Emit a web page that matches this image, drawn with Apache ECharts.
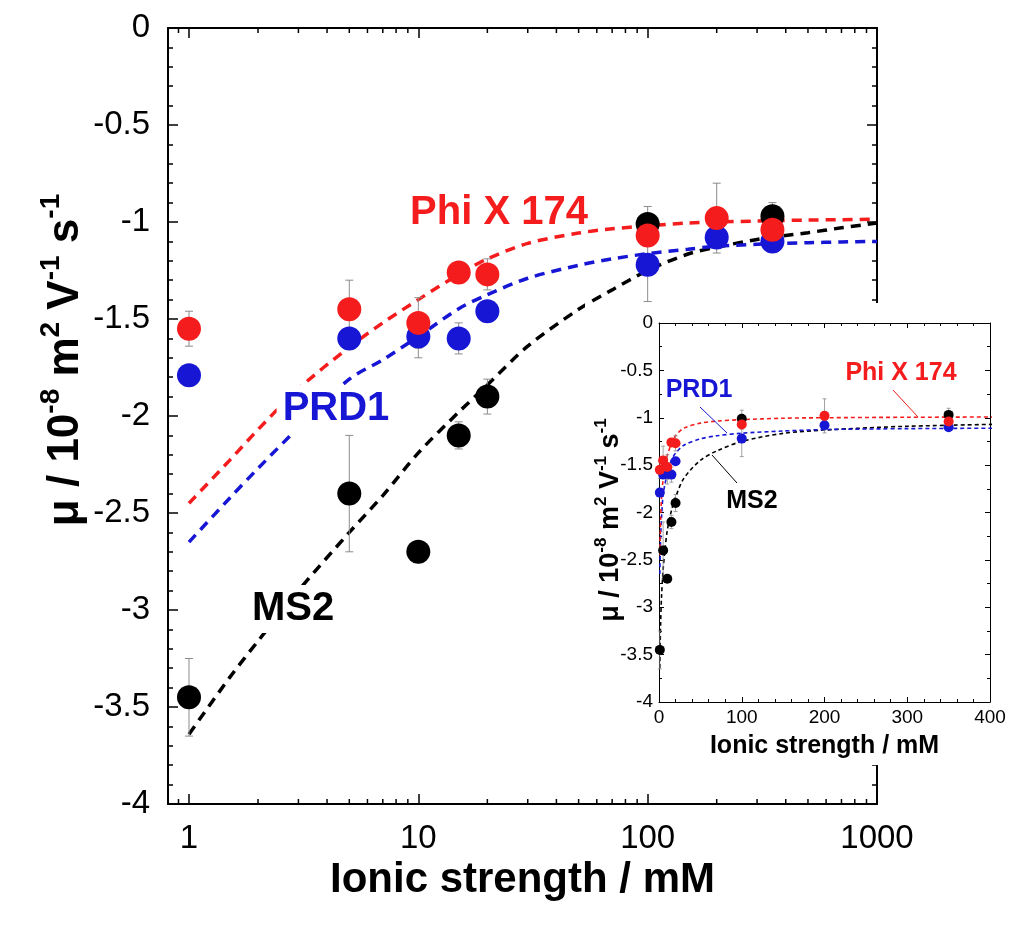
<!DOCTYPE html>
<html><head><meta charset="utf-8">
<script src="https://cdn.jsdelivr.net/npm/echarts@6/dist/echarts.min.js"></script>
<style>html,body{margin:0;padding:0;background:#fff}#c{width:1009px;height:925px}</style>
</head><body><div id="c"></div>
<script>
// ---- data ----
const ionic = [1, 5, 10, 15, 20, 100, 200, 350];
const phiX = [-1.55, -1.45, -1.52, -1.26, -1.27, -1.07, -0.98, -1.04];
const prd1 = [-1.79, -1.60, -1.59, -1.60, -1.46, -1.22, -1.08, -1.10];
const ms2  = [-3.45, -2.40, -2.70, -2.10, -1.90, -1.01, null, -0.97];
const phiXErr = [0.09, 0.15, 0.13, 0, 0.08, 0.05, 0.18, 0.03];
const prd1Err = [0, 0, 0.11, 0.08, 0, 0.19, 0.05, 0.02];
const ms2Err  = [0.20, 0.30, 0, 0.07, 0.09, 0.09, 0, 0.07];
const fitX    = [1, 1.5, 2, 3, 5, 7, 10, 15, 20, 30, 50, 70, 100, 150, 200, 300, 500, 700, 1000];
const phiXFit = [-2.45, -2.23, -2.07, -1.86, -1.645, -1.52, -1.40, -1.27, -1.19, -1.11, -1.057, -1.035, -1.02, -1.005, -1.0, -0.995, -0.99, -0.988, -0.985];
const prd1Fit = [-2.65, -2.425, -2.27, -2.06, -1.81, -1.71, -1.59, -1.447, -1.375, -1.29, -1.223, -1.19, -1.163, -1.14, -1.125, -1.115, -1.107, -1.103, -1.10];
const ms2Fit  = [-3.64, -3.35, -3.16, -2.90, -2.60, -2.41, -2.19, -1.98, -1.84, -1.64, -1.45, -1.35, -1.25, -1.165, -1.13, -1.09, -1.055, -1.03, -1.005];
const mainXTickLabels = [1, 10, 100, 1000];
const logMinorTicks = [0.9, 2, 3, 4, 5, 6, 7, 8, 9, 20, 30, 40, 50, 60, 70, 80, 90, 200, 300, 400, 500, 600, 700, 800, 900];

// ---- styles ----
const FONT = 'Liberation Sans, Arial, Helvetica, sans-serif';
const RED = '#f41c1c', BLUE = '#1616d4', BLACK = '#000000', ERR = '#8c8c8c';

function pts(xs, ys) { const o = []; xs.forEach((x, i) => { if (ys[i] != null) o.push([x, ys[i]]); }); return o; }
function errs(xs, ys, es) { const o = []; xs.forEach((x, i) => { if (ys[i] != null && es[i] > 0) o.push([x, ys[i] - es[i], ys[i] + es[i]]); }); return o; }
function errRender(cap, lw) {
  return function (params, api) {
    const x = api.value(0);
    const a = api.coord([x, api.value(1)]), b = api.coord([x, api.value(2)]);
    const st = { stroke: ERR, lineWidth: lw };
    return { type: 'group', children: [
      { type: 'line', shape: { x1: a[0], y1: a[1], x2: b[0], y2: b[1] }, style: st },
      { type: 'line', shape: { x1: a[0] - cap, y1: a[1], x2: a[0] + cap, y2: a[1] }, style: st },
      { type: 'line', shape: { x1: b[0] - cap, y1: b[1], x2: b[0] + cap, y2: b[1] }, style: st }
    ] };
  };
}

function valAxis(o) {
  return Object.assign({
    type: 'value', splitLine: { show: false },
    axisLine: { show: true, onZero: false, lineStyle: { color: '#000', width: 2 } },
    axisTick: { show: true, inside: true, length: 10, lineStyle: { color: '#000', width: 1.5 } },
    minorTick: { show: true, splitNumber: 5, length: 5, lineStyle: { color: '#000', width: 1.5 } },
    axisLabel: { show: true, fontSize: 33, color: '#000', fontFamily: FONT, margin: 18 }
  }, o);
}
function logAxis(o) {
  return Object.assign({
    type: 'log', logBase: 10, min: 0.81, max: 1000, splitLine: { show: false },
    axisLine: { show: true, onZero: false, lineStyle: { color: '#000', width: 2 } },
    axisTick: { show: true, inside: true, length: 10, lineStyle: { color: '#000', width: 1.5 } },
    minorTick: { show: false },
    axisLabel: { show: true, fontSize: 33, color: '#000', fontFamily: FONT, margin: 18,
      formatter: function (v) {
        const t = mainXTickLabels.find(t => Math.abs(Math.log10(v) - Math.log10(t)) < 1e-6);
        return t === undefined ? '' : String(t);
      } }
  }, o);
}
function insetAxis(o) {
  return Object.assign({
    type: 'value', gridIndex: 1, zlevel: 1, splitLine: { show: false },
    axisLine: { show: true, onZero: false, lineStyle: { color: '#000', width: 1 } },
    axisTick: { show: true, inside: true, length: 5, lineStyle: { color: '#000', width: 1 } },
    minorTick: { show: true, splitNumber: 5, length: 3, lineStyle: { color: '#000', width: 1 } },
    axisLabel: { show: true, fontSize: 19, color: '#000', fontFamily: FONT, margin: 6 }
  }, o);
}

const supRich = (big, small, lhBig, lhSmall) => ({
  b: { fontSize: big, fontWeight: 'bold', fontFamily: FONT, color: '#000', lineHeight: lhBig, verticalAlign: 'middle' },
  s: { fontSize: small, fontWeight: 'bold', fontFamily: FONT, color: '#000', lineHeight: lhSmall, verticalAlign: 'top' }
});
const yTitleText = '{b|μ / 10}{s|-8}{b| m}{s|2}{b| V}{s|-1}{b| s}{s|-1}';

const fitLine = (name, xs, ys, color, xi, yi, w, dash, zl) => ({
  type: 'line', name, xAxisIndex: xi, yAxisIndex: yi, zlevel: zl, z: 2,
  data: pts(xs, ys), showSymbol: false, smooth: 0.3, silent: true,
  lineStyle: { color, width: w, type: dash }
});
const scat = (name, ys, color, xi, yi, size, z, zl) => ({
  type: 'scatter', name, xAxisIndex: xi, yAxisIndex: yi, zlevel: zl, z,
  data: pts(ionic, ys), symbol: 'circle', symbolSize: size, itemStyle: { color, opacity: 1 }
});
const errSeries = (ys, es, xi, yi, cap, lw, zl) => ({
  type: 'custom', xAxisIndex: xi, yAxisIndex: yi, zlevel: zl, z: 3, silent: true,
  data: errs(ionic, ys, es), encode: { x: 0, y: [1, 2] }, renderItem: errRender(cap, lw)
});

const option = {
  animation: false,
  backgroundColor: '#fff',
  grid: [
    { left: 168, top: 28, width: 709, height: 776, outerBoundsMode: 'none' },
    { left: 659, top: 323, width: 331, height: 379, zlevel: 1, outerBoundsMode: 'none' }
  ],
  xAxis: [
    logAxis({ gridIndex: 0, position: 'bottom', name: 'Ionic strength / mM', nameLocation: 'middle', nameGap: 52,
      nameTextStyle: { fontSize: 42, fontWeight: 'bold', color: '#000', fontFamily: FONT } }),
    logAxis({ gridIndex: 0, position: 'top', axisLabel: { show: false } }),
    insetAxis({ min: 0, max: 400, interval: 100, position: 'bottom', name: 'Ionic strength / mM', nameLocation: 'middle', nameGap: 32,
      nameTextStyle: { fontSize: 25, fontWeight: 'bold', color: '#000', fontFamily: FONT } }),
    insetAxis({ min: 0, max: 400, interval: 100, position: 'top', axisLabel: { show: false } })
  ],
  yAxis: [
    valAxis({ gridIndex: 0, min: -4, max: 0, interval: 0.5, position: 'left' }),
    valAxis({ gridIndex: 0, min: -4, max: 0, interval: 0.5, position: 'right', axisLabel: { show: false } }),
    insetAxis({ min: -4, max: 0, interval: 0.5, position: 'left', minorTick: { show: true, splitNumber: 2, length: 3, lineStyle: { color: '#000', width: 1 } } }),
    insetAxis({ min: -4, max: 0, interval: 0.5, position: 'right', axisLabel: { show: false }, minorTick: { show: true, splitNumber: 2, length: 3, lineStyle: { color: '#000', width: 1 } } })
  ],
  series: [
    // main log-scale minor ticks (2..9 per decade)
    { type: 'custom', xAxisIndex: 0, yAxisIndex: 0, z: 1, silent: true, clip: false,
      data: logMinorTicks.map(v => [v, -4]), encode: { x: 0, y: 1 },
      renderItem: function (params, api) {
        const x = api.value(0);
        const b = api.coord([x, -4]), t = api.coord([x, 0]);
        const st = { stroke: '#000', lineWidth: 1.5 };
        return { type: 'group', children: [
          { type: 'line', shape: { x1: b[0], y1: b[1], x2: b[0], y2: b[1] - 5 }, style: st },
          { type: 'line', shape: { x1: t[0], y1: t[1], x2: t[0], y2: t[1] + 5 }, style: st }
        ] };
      } },
    fitLine('MS2 fit', fitX, ms2Fit, BLACK, 0, 0, 3.5, [10, 7], 0),
    fitLine('PRD1 fit', fitX, prd1Fit, BLUE, 0, 0, 3.5, [10, 7], 0),
    fitLine('Phi X 174 fit', fitX, phiXFit, RED, 0, 0, 3.5, [10, 7], 0),
    errSeries(ms2, ms2Err, 0, 0, 4, 1, 0),
    errSeries(prd1, prd1Err, 0, 0, 4, 1, 0),
    errSeries(phiX, phiXErr, 0, 0, 4, 1, 0),
    scat('MS2', ms2, BLACK, 0, 0, 24, 4, 0),
    scat('PRD1', prd1, BLUE, 0, 0, 24, 5, 0),
    scat('Phi X 174', phiX, RED, 0, 0, 24, 6, 0),
    // inset
    fitLine('MS2 fit i', fitX, ms2Fit, BLACK, 2, 2, 1.6, [4, 3], 1),
    fitLine('PRD1 fit i', fitX, prd1Fit, BLUE, 2, 2, 1.6, [4, 3], 1),
    fitLine('Phi X 174 fit i', fitX, phiXFit, RED, 2, 2, 1.6, [4, 3], 1),
    errSeries(ms2, ms2Err, 2, 2, 2, 0.8, 1),
    errSeries(prd1, prd1Err, 2, 2, 2, 0.8, 1),
    errSeries(phiX, phiXErr, 2, 2, 2, 0.8, 1),
    scat('MS2 i', ms2, BLACK, 2, 2, 10, 4, 1),
    scat('PRD1 i', prd1, BLUE, 2, 2, 10, 5, 1),
    scat('Phi X 174 i', phiX, RED, 2, 2, 10, 6, 1)
  ],
  graphic: { elements: [
    // main y title
    { type: 'text', x: 66, y: 360, rotation: Math.PI / 2, z: 10,
      style: { text: yTitleText, rich: supRich(44, 28, 58, 28), align: 'center', verticalAlign: 'middle' } },
    // main annotations
    { type: 'text', x: 499, y: 213, z: 10,
      style: { text: 'Phi X 174', fill: RED, font: 'bold 40px ' + FONT, align: 'center', verticalAlign: 'middle' } },
    { type: 'text', x: 336, y: 409, z: 10,
      style: { text: 'PRD1', fill: BLUE, font: 'bold 40px ' + FONT, align: 'center', verticalAlign: 'middle', backgroundColor: '#fff', padding: [4, 6] } },
    { type: 'text', x: 293, y: 609, z: 10,
      style: { text: 'MS2', fill: BLACK, font: 'bold 40px ' + FONT, align: 'center', verticalAlign: 'middle', backgroundColor: '#fff', padding: [4, 6] } },
    // inset background
    { type: 'rect', zlevel: 1, z: -5, shape: { x: 585, y: 303, width: 424, height: 462 }, style: { fill: '#fff' } },
    // inset y title
    { type: 'text', zlevel: 1, z: 10, x: 611, y: 520, rotation: Math.PI / 2,
      style: { text: yTitleText, rich: supRich(27, 17, 36, 17), align: 'center', verticalAlign: 'middle' } },
    // inset annotations
    { type: 'text', zlevel: 1, z: 10, x: 699, y: 390,
      style: { text: 'PRD1', fill: BLUE, font: 'bold 25px ' + FONT, align: 'center', verticalAlign: 'middle' } },
    { type: 'text', zlevel: 1, z: 10, x: 901, y: 373,
      style: { text: 'Phi X 174', fill: RED, font: 'bold 25px ' + FONT, align: 'center', verticalAlign: 'middle' } },
    { type: 'text', zlevel: 1, z: 10, x: 752, y: 501,
      style: { text: 'MS2', fill: BLACK, font: 'bold 25px ' + FONT, align: 'center', verticalAlign: 'middle' } },
    { type: 'line', zlevel: 1, z: 10, shape: { x1: 700, y1: 407, x2: 727, y2: 433 }, style: { stroke: BLUE, lineWidth: 1 } },
    { type: 'line', zlevel: 1, z: 10, shape: { x1: 893, y1: 390, x2: 918, y2: 417 }, style: { stroke: RED, lineWidth: 1 } },
    { type: 'line', zlevel: 1, z: 10, shape: { x1: 737, y1: 483, x2: 712, y2: 455 }, style: { stroke: BLACK, lineWidth: 1 } }
  ] }
};

const chart = echarts.init(document.getElementById('c'), null, { renderer: 'canvas' });
chart.setOption(option);
</script>
</body></html>
